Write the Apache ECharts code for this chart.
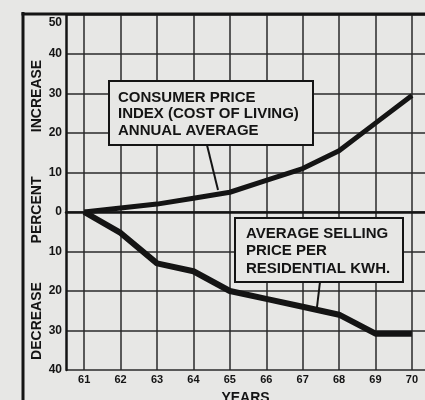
<!DOCTYPE html>
<html><head><meta charset="utf-8">
<script src="https://cdn.jsdelivr.net/npm/echarts@6/dist/echarts.min.js"></script>
<style>html,body{margin:0;padding:0;background:#e7e7e5;}#c{width:425px;height:400px;}</style>
</head><body><div id="c"></div>
<script>
var years = [61, 62, 63, 64, 65, 66, 67, 68, 69, 70];
var cpi = [0, 1, 2, 3.5, 5, 8, 11, 15.5, 22.5, 29.5];
var kwh = [0, -5.3, -13, -15, -20, -22, -24, -26, -30.8, -30.8];
var yTicks = [-40, -30, -20, -10, 0, 10, 20, 30, 40, 50];

var ink = '#141414';
var font = '"Liberation Sans", Arial, sans-serif';
function pairs(v) { return years.map(function (y, i) { return [y, v[i]]; }); }

var chart = echarts.init(document.getElementById('c'), null, { renderer: 'canvas' });
chart.setOption({
  backgroundColor: '#e7e7e5',
  animation: false,
  grid: { left: 66, top: 14.5, bottom: 30, right: 0, containLabel: false, outerBoundsMode: 'none' },
  xAxis: {
    type: 'value', min: 60.5, max: 70.36,
    name: 'YEARS', nameLocation: 'middle', nameGap: 21,
    nameTextStyle: { fontFamily: font, fontWeight: 'bold', fontSize: 14, color: ink },
    axisLine: { show: true, lineStyle: { color: ink, width: 2.5 } },
    axisTick: { show: false, customValues: years },
    axisLabel: { customValues: years, margin: 4, fontFamily: font, fontWeight: 'bold', fontSize: 11, color: ink },
    splitLine: { show: true, lineStyle: { color: '#2a2a2a', width: 1.5 } }
  },
  yAxis: {
    type: 'value', min: -40, max: 50, interval: 10,
    axisLine: { show: true, lineStyle: { color: ink, width: 2.5 } },
    axisTick: { show: false },
    axisLabel: {
      margin: 4, fontFamily: font, fontWeight: 'bold', fontSize: 12, color: ink,
      formatter: function (v) { return v === 50 ? '{t|50}' : String(Math.abs(v)); },
      rich: { t: { padding: [17, 0, 0, 0], fontFamily: font, fontWeight: 'bold', fontSize: 12, color: ink } }
    },
    splitLine: { show: true, lineStyle: { color: '#2a2a2a', width: 1.5 } }
  },
  series: [
    { type: 'line', data: pairs(cpi), symbol: 'none', lineStyle: { color: ink, width: 5 }, z: 5 },
    { type: 'line', data: pairs(kwh), symbol: 'none', lineStyle: { color: ink, width: 6 }, z: 5 }
  ],
  graphic: [
    { type: 'line', shape: { x1: 23, y1: 12, x2: 23, y2: 400 }, style: { stroke: ink, lineWidth: 3 }, z: 10 },
    { type: 'line', shape: { x1: 21.5, y1: 14, x2: 425, y2: 14 }, style: { stroke: ink, lineWidth: 3 }, z: 10 },
    { type: 'text', x: 37, y: 96, rotation: Math.PI / 2, style: { text: 'INCREASE', font: 'bold 14px ' + font, fill: ink, align: 'center', verticalAlign: 'middle' } },
    { type: 'text', x: 37, y: 210, rotation: Math.PI / 2, style: { text: 'PERCENT', font: 'bold 14px ' + font, fill: ink, align: 'center', verticalAlign: 'middle' } },
    { type: 'text', x: 37, y: 321, rotation: Math.PI / 2, style: { text: 'DECREASE', font: 'bold 14px ' + font, fill: ink, align: 'center', verticalAlign: 'middle' } },
    { type: 'line', shape: { x1: 207, y1: 145, x2: 218, y2: 190 }, style: { stroke: ink, lineWidth: 2 }, z: 10 },
    { type: 'line', shape: { x1: 320, y1: 282, x2: 317, y2: 307 }, style: { stroke: ink, lineWidth: 2 }, z: 10 },
    { type: 'rect', shape: { x: 109, y: 81, width: 204, height: 64 }, style: { fill: '#e7e7e5', stroke: ink, lineWidth: 2 }, z: 11 },
    { type: 'text', x: 118, y: 89.5, z: 12, style: { text: 'CONSUMER PRICE\nINDEX (COST OF LIVING)\nANNUAL AVERAGE', font: 'bold 15px ' + font, lineHeight: 16.5, fill: ink } },
    { type: 'rect', shape: { x: 235, y: 218, width: 168, height: 64 }, style: { fill: '#e7e7e5', stroke: ink, lineWidth: 2 }, z: 11 },
    { type: 'text', x: 246, y: 225, z: 12, style: { text: 'AVERAGE SELLING\nPRICE PER\nRESIDENTIAL KWH.', font: 'bold 15px ' + font, lineHeight: 17.5, fill: ink } }
  ]
});
</script></body></html>
